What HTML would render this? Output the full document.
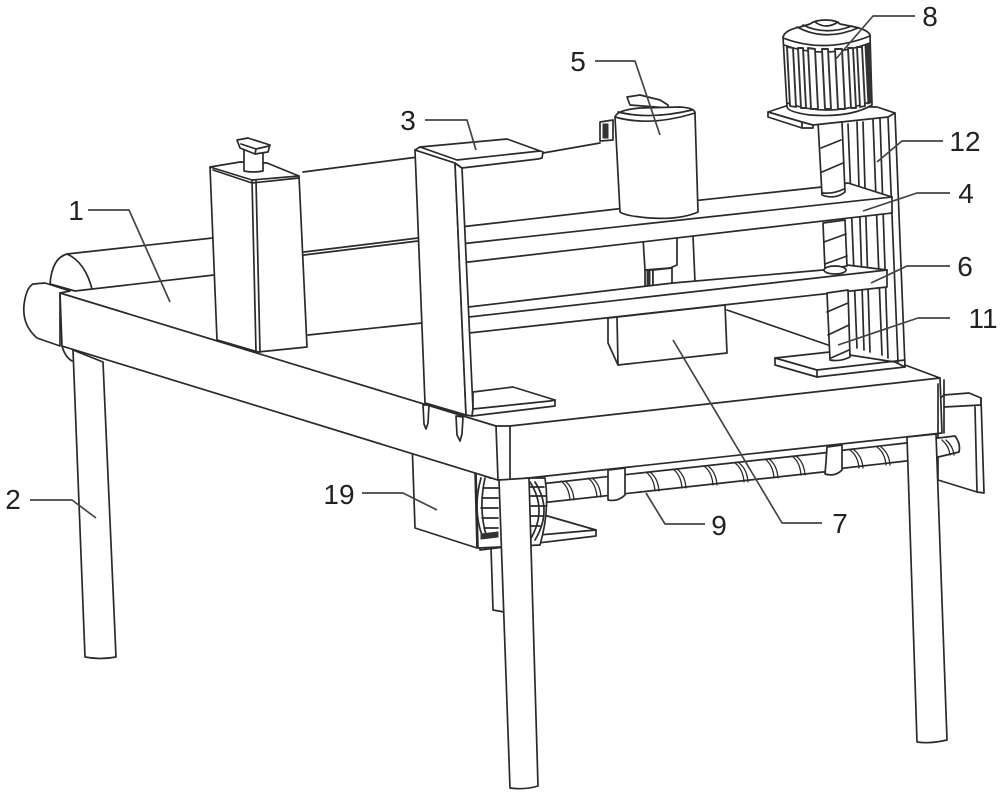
<!DOCTYPE html>
<html lang="en"><head><meta charset="utf-8"><title>Diagram</title>
<style>
html,body{margin:0;padding:0;background:#fff;width:1000px;height:795px;overflow:hidden}
svg{display:block}
.s *{fill:#fff;stroke:#2a2a2a;stroke-width:1.7;stroke-linejoin:round;stroke-linecap:round}
.s .n{fill:none}
.s .t{fill:none;stroke-width:1.3}
.s .d{fill:#333;stroke:#333;stroke-width:1}
.s .f{stroke-width:1.9;stroke:#333}
.l{fill:none;stroke:#444;stroke-width:1.7;stroke-linejoin:round}
text{font-family:"Liberation Sans",sans-serif;font-size:28px;fill:#222;text-anchor:middle}
</style></head><body>
<svg width="1000" height="795" viewBox="0 0 1000 795" xmlns="http://www.w3.org/2000/svg">
<g class="s" style="filter:blur(.35px)">
<!-- right plate -->
<path d="M944 395L969 393L981 398L984 493L977 492L938 480L938 400Z"/>
<path class="n" d="M944 407L981 405M981 398L981 405M975 407L977 492"/>
<!-- auger -->
<path d="M930 439L955 436Q961 444 959 452L930 459Z"/>
<path d="M540 484L832 452L832 471L540 503Z"/>
<path d="M836 451L915 442L915 460L836 469Z"/>
<path class="t" d="M561 481q8 6 9 19M565 481q8 6 9 19M588 478q8 6 9 19M592 478q8 6 9 19M646 472q8 6 9 19M650 472q8 6 9 19M673 469q8 6 9 19M677 469q8 6 9 19M704 466q8 6 9 19M708 466q8 6 9 19M735 463q8 6 9 19M739 463q8 6 9 19M765 459q8 6 9 19M769 459q8 6 9 19M792 456q8 6 9 19M796 456q8 6 9 19M850 450q8 6 9 18M854 450q8 6 9 18M877 447q8 6 9 18M881 447q8 6 9 18M942 440q7 6 8 15M946 440q7 6 8 15"/>
<path d="M608 470L625 468L625 495Q618 502 608 500Z"/>
<path d="M827 447L842 445L842 470Q835 477 825 474L826 462Z"/>
<!-- triangle plate, rod, block 19 -->
<path d="M491 547L493 610L504 612L504 540Z"/>
<path d="M480 543L544 515L596 530L596 536L480 550Z"/>
<path class="n" d="M482 540L596 530"/>
<path d="M412 440L475 470L477 548L415 528Z"/>
<path d="M476 473Q486 476 490 478L545 478Q550 510 540 545L478 548Z"/>
<path class="n" d="M481 478Q472 510 483 538M485 478Q478 510 487 538M530 482Q548 510 530 540M535 482Q553 510 535 540"/>
<path class="n" d="M483 488H498M482 498H498M481 508H498M482 518H498M484 528H498M530 487H544M530 496H546M530 506H546M530 516H544M530 526H540"/>
<path class="d" d="M481 534L498 532L498 537L481 539Z"/>
<!-- left leg -->
<path d="M73 350L85 657Q100 660 116 657L103 362Z"/>
<!-- back roller -->
<path d="M50 284Q52 258 67 254L240 235L240 272L75 291Z"/>
<path class="n" d="M67 254Q85 262 92 289"/>
<path class="n" d="M303 172L418 157M304 252L418 238M304 255L418 241M308 335L422 323M543 153L600 143"/>
<!-- table faces -->
<path d="M33 284L45 283L70 291L60 293L60 346L37 338Q22 325 24 305Q26 288 33 284Z"/>
<path class="n" d="M62 346Q65 357 72 361"/>
<path d="M60 293L496 426L510 426L940 378L942 433L510 480L498 480L62 346Z"/>
<path class="n" d="M496 426L498 480M510 426L510 480M938 384L938 433M944 380L944 433M905 365L940 378"/>
<!-- box -->
<path d="M210 167L240 162L267 163L299 176L307 347L258 352L217 340Z"/>
<path class="n" d="M210 167L252 180L299 176M213 170L252 183L299 178M252 180L256 352M256 180L260 352"/>
<path d="M244 150L263 150L263 171Q253 173 244 171Z"/>
<path d="M237 140L248 138L270 145L268 152L255 154L240 148Z"/>
<path class="n" d="M241 144L256 149L269 146M256 149L255 154"/>
<!-- box 7 and link -->
<path d="M608 318L725 305L727 353L618 365L608 343Z"/>
<path class="n" d="M617 317L618 365M727 310L828 345"/>
<!-- bracket 12 -->
<path d="M813 125L888 113L895 113L905 367L817 377L775 365L775 358L828 352L898 360L888 117Z" style="stroke:none"/>
<path class="n" d="M895 113L905 367M888 117L898 362"/>
<path class="n" d="M848 124L857 348M857 122L864 350M863 122L870 352M873 120L882 355M880 119L888 358"/>
<path d="M775 358L830 352L895 362L905 367L817 377L775 365Z"/>
<path class="n" d="M775 358L817 370L905 360M817 370L817 377"/>
<!-- shaft under beam 4 -->
<path d="M643 238L677 234L677 265L670 268L645 270Z"/>
<path class="n" d="M693 236L695 282"/>
<path d="M645 270L653 270L653 288L645 288Z"/>
<path class="d" d="M647 271L650 271L650 287L647 287Z"/>
<path d="M653 270L672 268L672 288Q662 292 653 288Z"/>
<!-- beam 6 -->
<path d="M460 308L673 283L823 270L847 265L887 270L887 287L460 334Z"/>
<path class="n" d="M460 318L887 270"/>
<!-- beam 4 -->
<path d="M460 227L617 209L822 187L848 183L892 197L892 213L460 263Z"/>
<path class="n" d="M460 244L892 197"/>
<!-- motor 5 -->
<path d="M627 97L640 95L660 100L668 105L668 108L630 105Z"/>
<path d="M600 122L613 120L613 140L600 141Z"/>
<path class="d" d="M603 124L608 124L608 138L603 138Z"/>
<path d="M615 117Q617 110 640 108L680 107Q695 108 695 113L698 212Q680 220 650 218Q625 216 620 212Z"/>
<path class="n" d="M615 117Q650 127 695 113M618 112Q650 120 692 110"/>
<!-- screw segments -->
<path d="M818 122L842 122L845 192Q835 200 822 195Z"/>
<path class="n" d="M821 148L841 140M822 172L843 163M822 193Q834 194 844 189"/>
<path d="M823 223L845 220L847 266L825 270Z"/>
<path class="n" d="M824 242L846 234M825 264L847 256"/>
<ellipse cx="835" cy="270" rx="11" ry="4"/>
<path d="M827 293L848 290L850 357Q840 362 830 360Z"/>
<path class="n" d="M827 312L848 303M828 335L849 325M831 358L849 350"/>
<!-- motor plate -->
<path d="M768 112L786 106L877 107L895 113L888 117L813 125L813 128L802 128L768 117Z"/>
<path class="n" d="M768 112L802 122L813 125M802 122L802 128"/>
<!-- motor 8 -->
<path d="M783 37Q785 30 800 27L810 24Q815 20 826 20Q836 20 840 24L855 27Q868 30 870 35L872 105Q850 118 810 115Q788 112 787 107Z"/>
<path class="n" d="M783 38Q825 54 870 36M784 45Q825 60 870 43M787 103Q830 118 872 101"/>
<path class="n" d="M797 27Q825 42 858 28M803 25Q825 36 852 26M815 22Q826 30 838 22"/>
<path class="f" d="M787 47L793 48L796 107L790 106Z"/>
<path class="f" d="M798 48L803 48L806 108L801 108Z"/>
<path class="f" d="M808 48L815 49L818 109L811 109Z"/>
<path class="f" d="M822 49L828 49L831 109L825 109Z"/>
<path class="f" d="M835 49L842 49L845 109L838 109Z"/>
<path class="f" d="M848 48L853 48L856 108L851 108Z"/>
<path class="f" d="M857 47L862 47L865 106L860 107Z"/>
<path class="d" d="M865 45L870 44L872 102L868 104Z"/>
<!-- bracket 3 -->
<path d="M415 150L455 163L466 415L425 403Z"/>
<path d="M455 163L462 168L473 409L472 416L466 415Z"/>
<path d="M473 392L513 387L555 400L555 406L472 416L473 409Z"/>
<path class="n" d="M473 409L550 401L555 400"/>
<path d="M415 150L420 147L507 139L543 152L542 158L538 159L462 168L455 163Z"/>
<path class="n" d="M420 147L457 160L540 151"/>
<path d="M423 405L429 405L428 423L426 429L424 424Z"/>
<path d="M456 416L463 417L462 434L460 441L457 435Z"/>
<!-- front and right legs -->
<path d="M499 480L529 478L538 786Q525 790 510 788Z"/>
<path d="M907 437L936 434L947 740Q930 744 917 742Z"/>
</g>
<g class="l">
<path d="M88 210H129L170 302"/>
<path d="M30 500H72L96 518"/>
<path d="M425 120H467L476 150"/>
<path d="M863 211L917 193H950"/>
<path d="M595 61H635L660 135"/>
<path d="M871 283L907 266H950"/>
<path d="M673 340L782 523H822"/>
<path d="M835 60L873 16H915"/>
<path d="M646 493L665 524H705"/>
<path d="M838 345L918 318H950"/>
<path d="M877 162L902 141H943"/>
<path d="M362 493H403L437 510"/>
</g>
<text x="76" y="220">1</text>
<text x="13" y="509">2</text>
<text x="408" y="130">3</text>
<text x="966" y="203">4</text>
<text x="578" y="71">5</text>
<text x="965" y="276">6</text>
<text x="840" y="533">7</text>
<text x="930" y="26">8</text>
<text x="719" y="535">9</text>
<text x="983" y="328">11</text>
<text x="965" y="151">12</text>
<text x="339" y="504">19</text>
</svg>
</body></html>
